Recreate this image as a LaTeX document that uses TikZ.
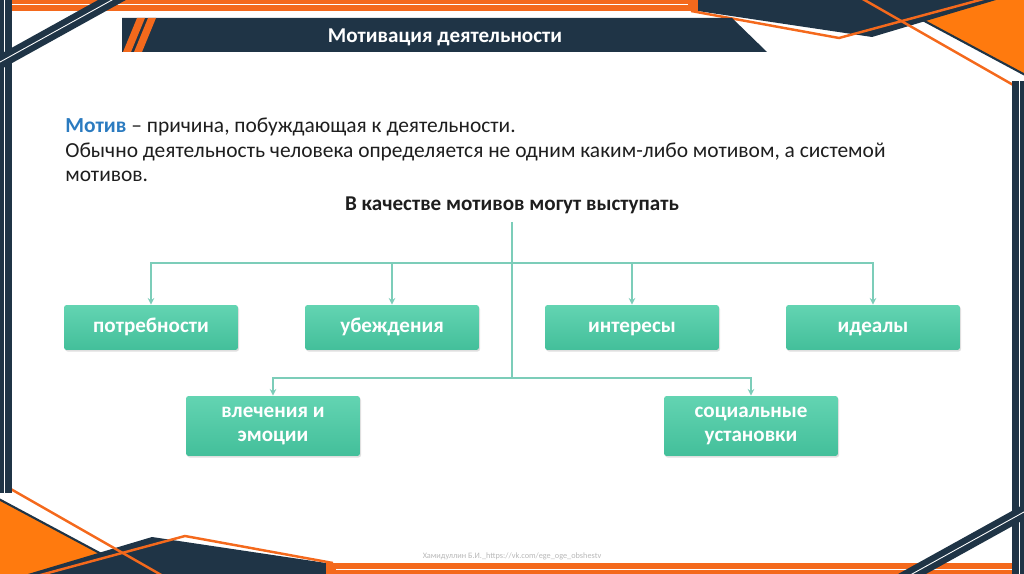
\documentclass[tikz,border=0pt]{standalone}
\usepackage{fontspec}
\setmainfont{Carlito}
\usepackage{tikz}
\usetikzlibrary{shadows}
\definecolor{decodark}{HTML}{1F3446}
\definecolor{decoorange}{HTML}{F4691C}
\definecolor{fillorange}{HTML}{FF7A0E}
\definecolor{boxtop}{HTML}{63D4B2}
\definecolor{boxbot}{HTML}{43BF9A}
\definecolor{linkteal}{HTML}{7CCDB9}
\definecolor{motivblue}{HTML}{2B7BC0}
\definecolor{bodytext}{HTML}{1E1E1E}

\begin{document}
\begin{tikzpicture}[
                >=stealth,
                x=0.02cm,
                y=-0.02cm,
                motivbox/.style={rectangle, rounded corners=1.5pt, top color=boxtop, bottom color=boxbot,
                    text=white, font=\fontsize{12}{13.7}\selectfont\bfseries, align=center,
                    minimum width=3.48cm, drop shadow={opacity=0.25, shadow xshift=0.6pt, shadow yshift=-0.9pt}},
                onebox/.style={motivbox, minimum height=0.9cm, text height=1.55ex, text depth=0.45ex},
                twobox/.style={motivbox, minimum height=1.2cm},
                link/.style={linkteal, line width=0.7pt},
                bodyline/.style={anchor=base west, inner sep=0pt, text=bodytext, font=\fontsize{12.2}{13.8}\selectfont}
            ]

            \useasboundingbox (0,0) rectangle (1024,574);
            \clip (0,0) rectangle (1024,574);

            \foreach \ang in {0,180} {
                \begin{scope}[rotate around={\ang:(512,287)}]
                    \fill[fillorange] (0,500) -- (150,580) -- (-5,580) -- cycle;
                    \draw[decodark, line width=1.2pt] (-5,497) -- (150,580);
                    \fill[decodark] (8,580) -- (152,537) -- (333,564) -- (352,580) -- cycle;
                    \draw[decoorange, line width=1.4pt] (-5,480) -- (170,580);
                    \draw[decoorange, line width=1.4pt, line join=miter] (22,580) -- (185,536) -- (333,563);
                    \fill[decoorange] (326,563) rectangle (1030,580);
                    \draw[white, line width=0.5pt] (336,569.5) -- (1030,569.5);
                \end{scope}
            }

            \foreach \ang in {0,180} {
                \begin{scope}[rotate around={\ang:(512,287)}]
                    \fill[decodark] (0,-5) rectangle (12,493);
                    \draw[white, line width=0.5pt] (4.5,-5) -- (4.5,493);
                    \draw[decodark, line width=0.27cm] (-20,73.1) -- (132,-11.1);
                    \draw[white, line width=0.5pt] (-20,73.1) -- (132,-11.1);
                \end{scope}
            }

            \fill[decodark] (122,18) -- (732,18) -- (767,52) -- (122,52) -- cycle;
            \fill[decoorange] (123,52) -- (131,52) -- (145,18) -- (137,18) -- cycle;
            \fill[decoorange] (134,52) -- (142,52) -- (156,18) -- (148,18) -- cycle;
            \node[anchor=base, text=white, font=\fontsize{12}{14}\selectfont\bfseries] (title) at (445,43) {Мотивация деятельности};

            \node[bodyline] (motiv1) at (65,133) {\textcolor{motivblue}{\bfseries Мотив} – причина, побуждающая к деятельности.};
            \node[bodyline] (motiv2) at (65,157.5) {Обычно деятельность человека определяется не одним каким-либо мотивом, а системой};
            \node[bodyline] (motiv3) at (65,182) {мотивов.};

            \node[anchor=base, inner sep=0pt, text=bodytext, font=\fontsize{12}{14}\selectfont\bfseries] (vkach) at (512,211) {В качестве мотивов могут выступать};

            \node[onebox] (potr) at (151,327.5) {потребности};
            \node[onebox] (ubezh) at (392,327.5) {убеждения};
            \node[onebox] (inter) at (632,327.5) {интересы};
            \node[onebox] (ideal) at (873,327.5) {идеалы};
            \node[twobox] (vlech) at (273,426) {влечения и\\эмоции};
            \node[twobox] (soc) at (751,426) {социальные\\установки};

            \coordinate (jstart) at (512,222);
            \coordinate (jtop) at (512,263);
            \coordinate (jlow) at (512,378);

            \draw[link] (jstart) -- (jlow);
            \draw[link, ->] (jtop) -| (potr);
            \draw[link, ->] (jtop) -| (ubezh);
            \draw[link, ->] (jtop) -| (inter);
            \draw[link, ->] (jtop) -| (ideal);
            \draw[link, ->] (jlow) -| (vlech);
            \draw[link, ->] (jlow) -| (soc);

            \node[anchor=base, text=black!28, font=\fontsize{4.7}{5}\selectfont] (footer) at (512,558) {Хамидуллин Б.И.\_https://vk.com/ege\_oge\_obshestv};

            \end{tikzpicture}
\end{document}
